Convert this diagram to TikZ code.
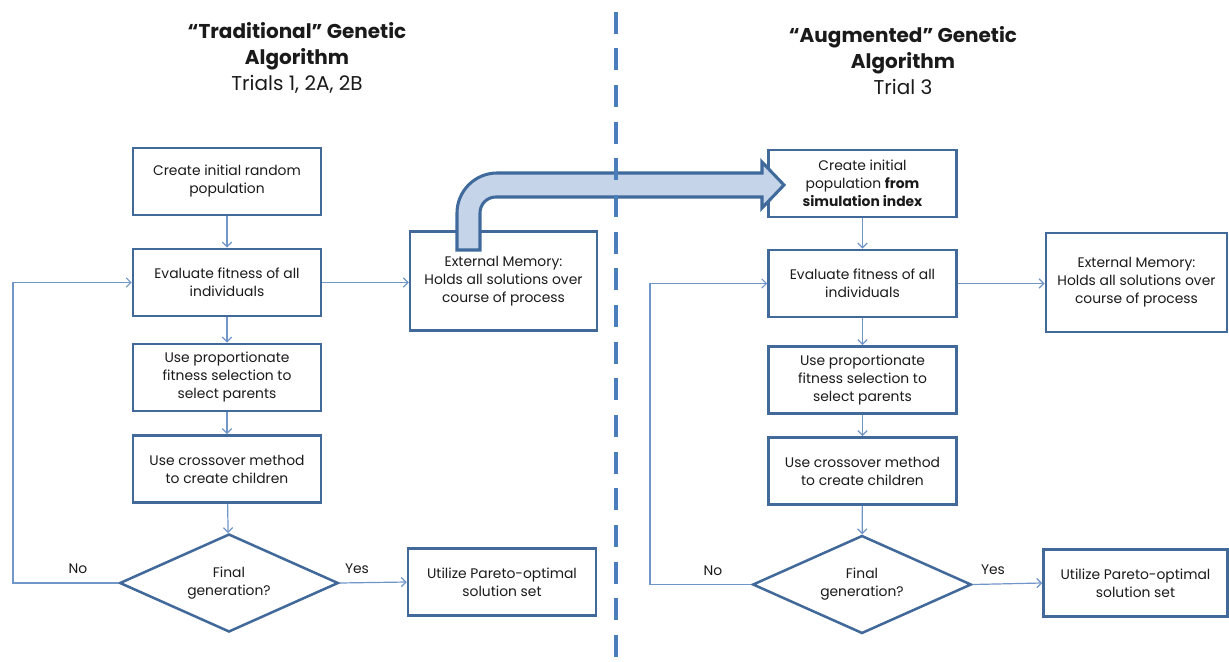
\documentclass[tikz,border=0pt]{standalone}
\usepackage{fontspec}
\setmainfont{Poppins}
\usetikzlibrary{shapes.geometric,arrows.meta}
\definecolor{boxc}{HTML}{41699A}
\definecolor{linec}{HTML}{7096C9}
\definecolor{arrfill}{HTML}{C5D4E9}
\definecolor{arrdraw}{HTML}{3F6A9B}
\definecolor{dashc}{HTML}{4A7EBB}
\definecolor{txt}{HTML}{1A1A1A}
\tikzset{
  box/.style={draw=boxc, line width=1.9pt, minimum width=141pt, minimum height=50.5pt, align=center, inner sep=2pt, text=txt, font=\fontsize{10.4}{13.5}\selectfont},
  membox/.style={box, minimum width=140pt, minimum height=74pt},
  decision/.style={draw=boxc, line width=1.9pt, shape=diamond, aspect=2.23, minimum width=164pt, minimum height=73.5pt, inner sep=0pt, align=center, text=txt, font=\fontsize{10.4}{13.5}\selectfont},
  conn/.style={draw=linec, line width=0.9pt, -{Straight Barb[length=3.5pt,width=7pt]}},
  lbl/.style={text=txt, font=\fontsize{10.4}{12}\selectfont},
  title/.style={align=center, text=txt, font=\fontsize{15}{19.5}\selectfont}
}
\begin{document}
\begin{tikzpicture}[x=0.75pt,y=-0.75pt]
\useasboundingbox (0,0) rectangle (1229,661);

% titles
\node[title] (t1) at (297,58) {\textbf{“Traditional” Genetic}\\ \textbf{Algorithm}\\ Trials 1, 2A, 2B};
\node[title] (t2) at (903,61) {\textbf{“Augmented” Genetic}\\ \textbf{Algorithm}\\ Trial 3};

% left flow
\node[box] (a1) at (227,181.5) {Create initial random\\population};
\node[box] (a2) at (227,282.5) {Evaluate fitness of all\\individuals};
\node[box] (a3) at (227,377.5) {Use proportionate\\fitness selection to\\select parents};
\node[box] (a4) at (227,469) {Use crossover method\\to create children};
\node[decision] (a5) at (229,583) {Final\\generation?};
\node[box] (a6) at (502,582) {Utilize Pareto-optimal\\solution set};
\node[membox] (am) at (503.5,281) {External Memory:\\Holds all solutions over\\course of process};
\coordinate (aL) at (13,583);

\draw[conn] (a1) -- (a2);
\draw[conn] (a2) -- (a3);
\draw[conn] (a3) -- (a4);
\draw[conn] (a4) -- (a5);
\draw[conn] (a5.east) -- (a6.west);
\draw[conn] (a2.east) -- (am.west |- a2.east);
\draw[conn] (a5.west) -- (aL) |- (a2.west);
\node[lbl] (ano) at (78,569) {No};
\node[lbl] (ayes) at (357,569) {Yes};

% right flow
\node[box] (b1) at (862.5,183.5) {Create initial\\population \textbf{from}\\\textbf{simulation index}};
\node[box] (b2) at (862.5,283.5) {Evaluate fitness of all\\individuals};
\node[box] (b3) at (862.5,380) {Use proportionate\\fitness selection to\\select parents};
\node[box] (b4) at (862.5,471) {Use crossover method\\to create children};
\node[decision] (b5) at (862,584.5) {Final\\generation?};
\node[box, minimum width=138pt] (b6) at (1135.5,583) {Utilize Pareto-optimal\\solution set};
\node[membox, minimum width=136pt] (bm) at (1136.5,282.5) {External Memory:\\Holds all solutions over\\course of process};
\coordinate (bL) at (650,584.5);

\draw[conn] (b1) -- (b2);
\draw[conn] (b2) -- (b3);
\draw[conn] (b3) -- (b4);
\draw[conn] (b4) -- (b5);
\draw[conn] (b5.east) -- (b6.west);
\draw[conn] (b2.east) -- (bm.west |- b2.east);
\draw[conn] (b5.west) -- (bL) |- (b2.west);
\node[lbl] (bno) at (713,571) {No};
\node[lbl] (byes) at (993,570) {Yes};

% big curved arrow from external memory to augmented start
\draw[draw=arrdraw, fill=arrfill, line width=2.3pt, line join=miter]
  (457,250) -- (457,213) .. controls (457,191) and (475,173) .. (497,173)
  -- (762,173) -- (762,162) -- (784,185) -- (762,208) -- (762,197)
  -- (496,197) .. controls (487,197) and (480,204) .. (480,213)
  -- (480,250) -- cycle;

% dashed divider
\draw[dashc, line width=3pt, dash pattern=on 16.5pt off 11pt] (616,-25) -- (616,661);
\end{tikzpicture}
\end{document}
